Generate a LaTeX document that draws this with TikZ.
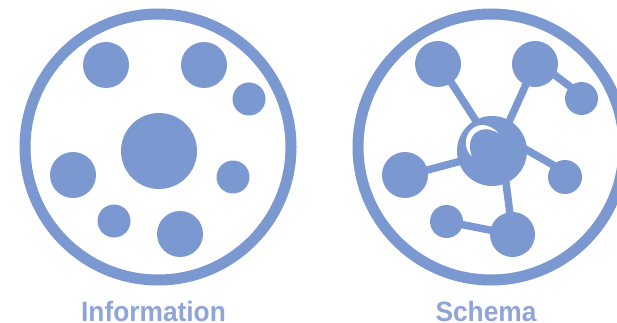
\documentclass[tikz,border=0pt]{standalone}
\usepackage{fontspec}
\setmainfont{Liberation Sans}[FakeStretch=0.94]
\definecolor{blu}{HTML}{7B98D0}
\definecolor{lab}{HTML}{8FA5D8}
\tikzset{
  ring/.style={circle,draw=blu,line width=11pt,fill=none,inner sep=0pt,minimum size=266pt},
  dot/.style={circle,fill=blu,inner sep=0pt,minimum size=#1},
  link/.style={draw=blu,line width=7.5pt},
  lbl/.style={text=lab,font=\bfseries\fontsize{28}{30}\selectfont,inner sep=0pt,anchor=base}
}
\begin{document}
\begin{tikzpicture}[x=1pt,y=-1pt]
\useasboundingbox[fill=white] (0,0) rectangle (617,323);
\begin{scope}
\clip (0,0) rectangle (617,323);
% left
\node[ring] (L) at (158,147) {};
\node[dot=46pt] (a1) at (106,65) {};
\node[dot=46pt] (a2) at (204,65) {};
\node[dot=33pt] (a3) at (249,99) {};
\node[dot=76pt] (a4) at (159,151) {};
\node[dot=46pt] (a5) at (73,175) {};
\node[dot=33pt] (a6) at (233,177) {};
\node[dot=33pt] (a7) at (114,221) {};
\node[dot=46pt] (a8) at (180,234) {};
% right
\node[ring] (R) at (491,147) {};
\node[dot=46pt] (b1) at (438,64) {};
\node[dot=46pt] (b2) at (535,64) {};
\node[dot=33pt] (b3) at (581.5,98.5) {};
\node[dot=70pt] (b4) at (492,151) {};
\node[dot=46pt] (b5) at (405,175) {};
\node[dot=34pt] (b6) at (565,177) {};
\node[dot=33pt] (b7) at (446.5,221.5) {};
\node[dot=45pt] (b8) at (512.5,234.5) {};
% free ends of the links, placed where the reference's strokes run
\coordinate (c1a) at (478,124); \coordinate (c1b) at (449,79);
\coordinate (c2a) at (508,124); \coordinate (c2b) at (528,80);
\coordinate (c3a) at (548,70); \coordinate (c3b) at (572,88);
\coordinate (c4a) at (465,160); \coordinate (c4b) at (420,172);
\coordinate (c5a) at (520,146); \coordinate (c5b) at (560,169);
\coordinate (c6a) at (505,175); \coordinate (c6b) at (511,222);
\draw[link] (c1a) -- (c1b);
\draw[link] (c2a) -- (c2b);
\draw[link] (c3a) -- (c3b);
\draw[link] (c4a) -- (c4b);
\draw[link] (c5a) -- (c5b);
\draw[link] (c6a) -- (c6b);
\draw[link] (b7.center) -- (b8.center);
% crescent highlight
\fill[white] (471.7,156.5) .. controls (455,140) and (477,110.5) .. (499,133.5) .. controls (480.7,122) and (464.1,134.9) .. (471.7,156.5) -- cycle;
\end{scope}
\node[lbl] (t1) at (153.5,321) {Information};
\node[lbl] (t2) at (486,321) {Schema};
\end{tikzpicture}
\end{document}
